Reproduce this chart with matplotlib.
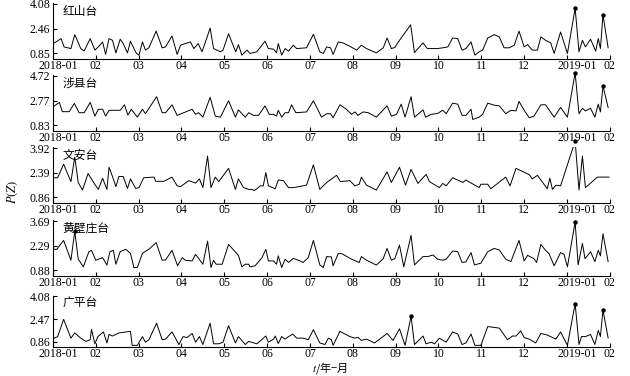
import numpy as np
import matplotlib
matplotlib.use("Agg")
import matplotlib.pyplot as plt
import matplotlib.transforms as mtransforms

plt.rcParams['font.family'] = ['Liberation Serif', 'Noto Sans CJK SC']
plt.rcParams['mathtext.fontset'] = 'stix'

# time in months counted from 2018-01 (13 = 2019-02)
stations = ['红山台', '涉县台', '文安台', '黄壁庄台', '广平台']
yticks_all = [[0.85, 2.46, 4.08], [0.83, 2.77, 4.72], [0.86, 2.39, 3.92],
              [0.88, 2.29, 3.69], [0.86, 2.47, 4.08]]
month_labels = ['2018-01', '02', '03', '04', '05', '06', '07', '08', '09', '10',
                '11', '12', '2019-01', '02']

t1 = [0.00, 0.07, 0.19, 0.26, 0.42, 0.51, 0.65, 0.73, 0.87, 0.98, 1.06, 1.16, 1.23, 1.31,
      1.39, 1.47, 1.57, 1.64, 1.74, 1.81, 1.89, 1.95, 2.01, 2.09, 2.16, 2.24, 2.41, 2.55,
      2.63, 2.78, 2.90, 2.98, 3.09, 3.21, 3.29, 3.39, 3.48, 3.56, 3.67, 3.75, 3.91, 3.97,
      4.10, 4.22, 4.27, 4.33, 4.41, 4.53, 4.60, 4.76, 4.95, 5.03, 5.15, 5.22, 5.26, 5.34,
      5.42, 5.50, 5.61, 5.69, 5.92, 6.08, 6.23, 6.31, 6.39, 6.48, 6.54, 6.66, 6.77, 6.93,
      7.09, 7.20, 7.32, 7.46, 7.55, 7.71, 7.80, 7.90, 7.98, 8.09, 8.23, 8.35, 8.44, 8.64,
      8.74, 8.87, 8.98, 9.10, 9.22, 9.33, 9.45, 9.55, 9.64, 9.76, 9.85, 9.95, 10.03, 10.15,
      10.30, 10.42, 10.53, 10.65, 10.77, 10.88, 11.00, 11.08, 11.19, 11.31, 11.39, 11.50,
      11.62, 11.70, 11.85, 12.01, 12.19, 12.28, 12.36, 12.43, 12.55, 12.67, 12.73, 12.78,
      12.84, 12.96]
v1 = [1.50, 1.60, 1.82, 1.28, 1.17, 2.08, 1.17, 1.02, 1.82, 1.07, 1.28, 1.60, 0.79, 1.82,
      1.71, 0.89, 1.78, 1.50, 0.89, 1.65, 1.17, 0.85, 0.74, 1.60, 1.07, 1.22, 2.31, 1.22,
      1.28, 1.99, 0.79, 1.39, 1.50, 1.60, 1.17, 1.50, 0.96, 1.60, 2.51, 1.17, 0.96, 1.07,
      2.14, 1.28, 0.96, 1.43, 0.74, 1.07, 0.85, 0.96, 1.65, 1.17, 1.13, 0.89, 1.50, 0.74,
      1.17, 1.00, 1.39, 1.17, 1.22, 2.10, 0.96, 0.85, 1.28, 1.22, 0.79, 1.60, 1.54, 1.32,
      1.07, 1.39, 1.17, 1.00, 0.89, 1.22, 1.86, 1.17, 1.24, 1.71, 2.25, 2.72, 0.91, 1.54,
      1.17, 1.17, 1.17, 1.22, 1.28, 1.86, 1.82, 1.07, 1.17, 1.60, 0.74, 0.96, 1.07, 1.86,
      2.08, 1.93, 1.22, 1.22, 1.39, 2.31, 1.28, 1.43, 1.07, 1.07, 1.93, 1.71,
      1.54, 0.85, 2.25, 0.85, 3.80, 0.96, 1.71, 1.28, 1.78, 1.00, 1.82, 1.17,
      3.37, 1.22]

t2 = [0.00, 0.15, 0.22, 0.38, 0.50, 0.61, 0.73, 0.87, 0.98, 1.06, 1.16, 1.23, 1.31, 1.47,
      1.57, 1.67, 1.75, 1.83, 1.97, 2.09, 2.16, 2.42, 2.55, 2.63, 2.78, 2.90, 3.25, 3.33,
      3.40, 3.50, 3.67, 3.79, 3.91, 4.10, 4.26, 4.33, 4.49, 4.57, 4.68, 4.80, 4.95, 5.05,
      5.15, 5.22, 5.26, 5.34, 5.42, 5.50, 5.57, 5.67, 5.92, 6.08, 6.27, 6.39, 6.48, 6.54,
      6.70, 6.85, 6.97, 7.05, 7.12, 7.24, 7.36, 7.55, 7.80, 7.90, 8.02, 8.13, 8.22, 8.36,
      8.44, 8.64, 8.70, 8.83, 8.98, 9.10, 9.18, 9.33, 9.45, 9.55, 9.64, 9.76, 9.80, 9.95,
      10.03, 10.15, 10.30, 10.42, 10.57, 10.69, 10.81, 10.88, 11.00, 11.12, 11.23, 11.39,
      11.50, 11.70, 11.85, 12.01, 12.19, 12.28, 12.36, 12.43, 12.55, 12.65, 12.73, 12.78,
      12.84, 12.96]
v2 = [2.28, 2.63, 1.90, 1.90, 2.55, 1.82, 1.82, 2.63, 1.55, 2.09, 2.09, 1.55, 2.01, 2.01,
      2.01, 2.44, 1.63, 2.09, 1.47, 2.09, 1.74, 3.08, 1.82, 1.82, 2.44, 1.61, 2.09, 1.69,
      1.82, 1.47, 3.03, 1.55, 1.47, 2.76, 1.47, 2.04, 1.47, 1.82, 1.61, 1.61, 2.36, 1.69,
      1.69, 1.55, 2.01, 1.47, 1.82, 1.82, 2.44, 1.82, 1.88, 2.76, 1.47, 1.74, 1.74, 1.42,
      2.44, 2.09, 1.69, 1.88, 1.61, 1.88, 1.82, 1.47, 2.36, 1.55, 1.69, 2.49, 1.47, 3.08,
      1.47, 2.04, 1.47, 1.69, 1.76, 2.01, 1.74, 2.57, 2.49, 1.61, 1.61, 2.09, 1.29, 1.47,
      1.69, 2.57, 2.41, 2.36, 1.74, 2.01, 1.96, 2.71, 2.01, 1.42, 1.55, 2.44,
      2.44, 1.47, 2.23, 1.47, 4.95, 1.74, 2.17, 1.96, 2.17, 1.47, 2.49, 1.88,
      3.92, 2.23]

t3 = [0.03, 0.11, 0.25, 0.42, 0.51, 0.59, 0.69, 0.82, 0.96, 1.06, 1.16, 1.26, 1.31, 1.39,
      1.47, 1.54, 1.64, 1.74, 1.81, 1.93, 2.01, 2.12, 2.36, 2.40, 2.59, 2.78, 2.90, 2.98,
      3.17, 3.33, 3.42, 3.50, 3.61, 3.69, 3.79, 3.87, 4.10, 4.26, 4.33, 4.45, 4.57, 4.64,
      4.70, 4.76, 4.84, 4.91, 4.97, 5.03, 5.19, 5.26, 5.38, 5.50, 5.61, 5.92, 6.08, 6.23,
      6.39, 6.62, 6.71, 6.93, 7.05, 7.15, 7.20, 7.32, 7.55, 7.80, 7.90, 8.09, 8.23, 8.36,
      8.52, 8.71, 8.79, 9.02, 9.10, 9.18, 9.33, 9.57, 9.64, 9.95, 9.99, 10.15, 10.22,
      10.57, 10.67, 10.81, 11.12, 11.19, 11.31, 11.54, 11.60, 11.66, 11.74, 11.85, 12.19,
      12.28, 12.36, 12.43, 12.71, 12.98]
v3 = [2.08, 2.08, 2.92, 1.84, 3.36, 1.79, 1.32, 2.34, 1.75, 1.36, 2.05, 1.36, 2.73, 2.16,
      1.53, 2.16, 2.16, 1.42, 2.01, 1.42, 1.47, 2.08, 2.12, 1.86, 1.86, 2.12, 1.58, 1.53,
      1.90, 1.75, 2.01, 1.47, 3.42, 1.47, 2.12, 1.84, 2.66, 1.36, 2.01, 1.47, 1.36, 1.36,
      1.29, 1.40, 1.58, 1.58, 2.40, 1.58, 1.40, 1.94, 1.90, 1.47, 1.47, 1.62, 2.88, 1.36,
      1.79, 2.23, 1.84, 1.90, 1.58, 1.68, 2.12, 1.62, 1.32, 2.44, 1.79, 2.73, 1.62, 2.60,
      1.73, 2.29, 1.84, 1.47, 1.73, 1.58, 2.08, 1.79, 1.94, 1.47, 1.68, 1.68, 1.40,
      2.12, 1.58, 2.66, 2.27, 2.01, 2.23, 1.40, 2.05, 1.36, 1.62, 1.58, 4.35,
      1.32, 3.42, 1.47, 2.12, 2.12]

t4 = [0.03, 0.09, 0.25, 0.42, 0.51, 0.59, 0.71, 0.84, 0.90, 1.00, 1.16, 1.26, 1.33, 1.41,
      1.47, 1.57, 1.70, 1.81, 1.89, 1.97, 2.09, 2.24, 2.41, 2.55, 2.63, 2.78, 2.91, 3.02,
      3.09, 3.25, 3.33, 3.50, 3.61, 3.69, 3.75, 3.81, 3.95, 4.10, 4.33, 4.41, 4.49, 4.57,
      4.60, 4.72, 4.88, 4.97, 5.03, 5.15, 5.22, 5.26, 5.34, 5.42, 5.50, 5.61, 5.77, 5.84,
      5.96, 6.08, 6.23, 6.31, 6.39, 6.50, 6.54, 6.66, 6.74, 6.97, 7.15, 7.20, 7.32, 7.55,
      7.71, 7.80, 7.90, 7.98, 8.09, 8.19, 8.36, 8.44, 8.64, 8.75, 8.87, 8.98, 9.10, 9.18,
      9.33, 9.45, 9.55, 9.64, 9.76, 9.84, 9.99, 10.15, 10.30, 10.42, 10.57, 10.69, 10.88,
      11.00, 11.08, 11.23, 11.29, 11.39, 11.50, 11.58, 11.70, 11.85, 11.93, 12.01, 12.19,
      12.26, 12.36, 12.42, 12.55, 12.65, 12.73, 12.78, 12.84, 12.96]
v4 = [2.08, 2.08, 2.59, 1.45, 3.12, 1.51, 1.07, 1.94, 2.02, 1.45, 1.60, 1.17, 1.94, 2.02,
      1.22, 1.94, 2.08, 1.85, 1.03, 1.03, 1.85, 2.08, 2.46, 1.45, 1.47, 2.02, 1.13, 1.60,
      1.45, 1.41, 1.79, 1.22, 2.55, 1.03, 1.45, 1.22, 1.22, 2.36, 1.73, 1.07, 1.22, 1.22,
      1.07, 1.13, 1.60, 2.08, 1.41, 1.41, 1.22, 1.70, 1.03, 1.51, 1.32, 1.56, 1.41, 1.32,
      1.60, 2.59, 1.18, 1.03, 1.66, 1.64, 1.13, 1.83, 1.83, 1.51, 1.32, 1.66, 1.45, 1.17,
      1.54, 2.13, 1.45, 1.54, 2.32, 1.07, 2.88, 1.18, 1.66, 1.66, 1.75, 1.51, 1.45, 1.51,
      1.98, 1.94, 1.32, 1.35, 1.89, 1.18, 1.28, 1.94, 2.13, 2.04, 1.51, 1.37, 2.59,
      1.41, 1.73, 1.54, 1.32, 2.36, 2.02, 1.83, 1.13, 1.89, 1.79, 1.07, 3.65,
      1.18, 2.42, 1.54, 1.94, 1.37, 2.02, 1.70, 2.97, 1.37]

t5 = [0.03, 0.11, 0.25, 0.42, 0.51, 0.65, 0.77, 0.87, 0.90, 0.98, 1.05, 1.18, 1.26, 1.31,
      1.39, 1.54, 1.81, 1.85, 1.97, 2.09, 2.16, 2.24, 2.42, 2.55, 2.63, 2.78, 2.94, 3.04,
      3.13, 3.25, 3.33, 3.42, 3.50, 3.67, 3.75, 3.87, 3.97, 4.10, 4.26, 4.33, 4.49, 4.57,
      4.76, 4.97, 5.03, 5.15, 5.19, 5.26, 5.34, 5.42, 5.50, 5.60, 5.69, 5.84, 5.96, 6.08,
      6.23, 6.35, 6.43, 6.50, 6.54, 6.70, 6.93, 7.05, 7.12, 7.20, 7.32, 7.51, 7.80, 7.94,
      8.09, 8.22, 8.36, 8.44, 8.64, 8.71, 8.83, 8.91, 9.02, 9.18, 9.33, 9.45, 9.55, 9.64,
      9.76, 9.85, 9.99, 10.15, 10.42, 10.61, 10.73, 10.81, 10.92, 11.00, 11.12, 11.27,
      11.39, 11.54, 11.74, 11.85, 12.01, 12.19, 12.28, 12.34, 12.43, 12.55, 12.65, 12.73,
      12.78, 12.84, 12.96]
v5 = [1.13, 1.24, 2.46, 1.13, 1.50, 1.13, 0.90, 1.02, 1.75, 0.73, 1.24, 1.57, 0.79, 1.39,
      1.28, 1.50, 1.61, 0.62, 0.62, 1.24, 0.84, 1.02, 2.19, 1.02, 1.06, 1.57, 0.68, 1.24,
      1.17, 1.46, 0.84, 1.24, 0.68, 2.19, 0.73, 0.73, 0.84, 2.01, 0.79, 1.24, 0.68, 0.90,
      0.73, 1.28, 0.84, 1.06, 1.28, 0.75, 1.24, 1.06, 1.24, 1.42, 1.13, 1.13, 1.02, 1.73,
      0.79, 0.68, 1.13, 1.02, 0.62, 1.61, 1.24, 1.13, 1.19, 0.97, 1.06, 0.79, 1.46, 0.97,
      1.79, 0.62, 2.68, 0.68, 1.28, 0.73, 0.84, 0.73, 1.13, 0.84, 1.57, 1.42, 0.68, 0.79,
      1.42, 0.62, 0.62, 1.95, 1.84, 1.02, 1.28, 1.28, 1.64, 1.17, 1.06, 0.79,
      1.46, 1.35, 1.06, 1.57, 0.62, 3.57, 0.68, 1.24, 1.24, 1.39, 0.68, 1.68,
      1.24, 3.12, 1.13]

# times of the marked anomalies in each series
marks = [[12.19, 12.84], [12.19, 12.84], [12.19], [0.51, 12.19], [8.36, 12.19, 12.84]]

times = [t1, t2, t3, t4, t5]
values = [v1, v2, v3, v4, v5]

fig = plt.figure(figsize=(6.3, 3.76), dpi=100)
bottoms = [0.842, 0.651, 0.459, 0.266, 0.076]
heights = [0.150, 0.150, 0.150, 0.148, 0.138]

for i in range(5):
    ax = fig.add_axes([0.084, bottoms[i], 0.884, heights[i]])
    t = np.array(times[i])
    v = np.array(values[i])
    ax.plot(t, v, color='black', lw=0.7)
    sel = np.isin(t, marks[i])
    ax.plot(t[sel], v[sel], 'o', color='black', ms=2.2, clip_on=False)

    lo, mid, hi = yticks_all[i]
    r = hi - lo
    ax.set_ylim(lo - 0.12 * r, hi + 0.02 * r)
    ax.set_yticks(yticks_all[i])
    ax.set_yticklabels(['%.2f' % y for y in yticks_all[i]])
    ax.set_xlim(0, 13)
    ax.set_xticks(range(14))
    ax.set_xticklabels(month_labels)
    for sp in ['top', 'right']:
        ax.spines[sp].set_visible(False)
    for sp in ['left', 'bottom']:
        ax.spines[sp].set_linewidth(0.8)
    ax.tick_params(direction='in', length=3, width=0.8, labelsize=8.5, pad=0.5)
    ax.tick_params(axis='y', pad=2)

    labs = ax.get_xticklabels()
    for k, dx in [(0, 5), (12, 10)]:
        labs[k].set_transform(labs[k].get_transform() +
                              mtransforms.ScaledTranslation(dx / 100, 0, fig.dpi_scale_trans))

    ax.text(0.017, 0.97, stations[i], transform=ax.transAxes, ha='left', va='top',
            fontsize=8.5, family=['Noto Sans CJK SC'])

fig.text(0.02, 0.49, '$P(Z)$', rotation=90, ha='center', va='center', fontsize=9)
fig.text(0.523, 0.0, '$t$/年−月', ha='center', va='bottom', fontsize=8,
         family=['Noto Sans CJK SC', 'Liberation Serif'])

fig.savefig('out.png', dpi=100)
